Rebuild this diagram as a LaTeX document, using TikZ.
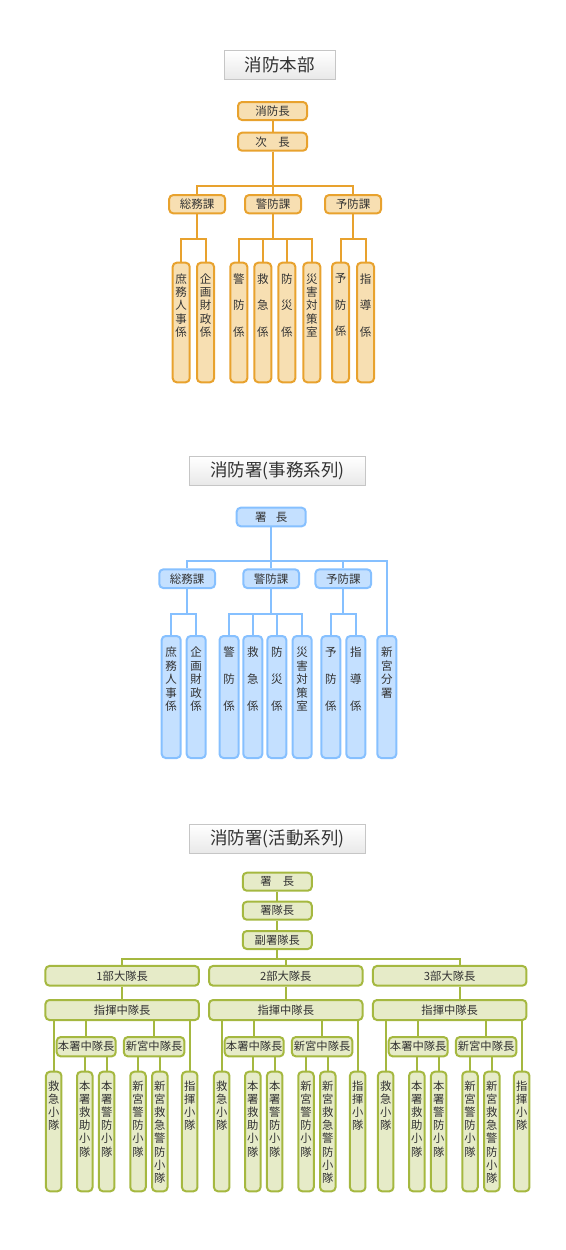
\documentclass[tikz,border=0pt]{standalone}
\usepackage{fontspec}
\setmainfont{Noto Sans CJK JP}
\definecolor{orgline}{HTML}{E8A22E}
\definecolor{orgfill}{HTML}{F7DFB2}
\definecolor{bluline}{HTML}{86C0FF}
\definecolor{blufill}{HTML}{C4E0FF}
\definecolor{grnline}{HTML}{A5B840}
\definecolor{grnfill}{HTML}{E6EBC8}
\definecolor{ink}{HTML}{333333}
% vertical text in a tall box: height, top gap, characters
\newcommand{\tate}[3]{\parbox[c][#1][t]{12pt}{\centering\vspace{#2}#3}}
\begin{document}
\begin{tikzpicture}[x=1pt, y=-1pt,
    titlebox/.style={draw=gray!45, line width=1pt, top color=white, bottom color=gray!18,
      minimum width=#1, minimum height=29pt, inner sep=0pt, text=ink,
      font=\fontsize{17.5}{20}\selectfont},
    box/.style={line width=2pt, rounded corners=4pt, inner sep=0pt, text=ink,
      font=\fontsize{11.5}{13.3}\selectfont},
    obox/.style={box, draw=orgline, fill=orgfill},
    bbox/.style={box, draw=bluline, fill=blufill, font=\fontsize{11.5}{13.5}\selectfont},
    gbox/.style={box, draw=grnline, fill=grnfill, font=\fontsize{11.3}{13.2}\selectfont},
    oline/.style={orgline, line width=2pt},
    bline/.style={bluline, line width=2pt},
    gline/.style={grnline, line width=2pt}]
  \useasboundingbox (0,0) rectangle (565,1250);

  % ---------- 消防本部 ----------
  \node[titlebox=111pt] (title1) at (279.5,65.3) {消防本部};
  \node[obox, minimum width=69pt, minimum height=18pt] (cho) at (272.5,111) {消防長};
  \node[obox, minimum width=69pt, minimum height=18pt] (jicho) at (272.5,141.7) {次\hspace{1em}長};
  \coordinate (obar1) at (0,185.7);
  \coordinate (obar2) at (0,239);
  \foreach \n/\x/\lbl in {somu/197.2/総務課, keibo/273/警防課, yobo/353/予防課}
    \node[obox, minimum width=56pt, minimum height=18.3pt] (o\n) at (\x,204.2) {\lbl};

  % sections under the 課
  \foreach \n/\x/\lbl in {shomu/181.2/{庶\\務\\人\\事\\係}, kikaku/205.5/{企\\画\\財\\政\\係},
      keibogk/238.8/{警\\[13.3pt]防\\[13.3pt]係}, kyukyu/262.8/{救\\[13.3pt]急\\[13.3pt]係},
      bosai/286.8/{防\\[13.3pt]災\\[13.3pt]係}, saigai/311.8/{災\\害\\対\\策\\室},
      yobogk/340.5/{予\\[13.3pt]防\\[13.3pt]係}, shido/365.5/{指\\[13.3pt]導\\[13.3pt]係}}
    \node[obox, anchor=north, minimum width=17pt] (o\n) at (\x,261.7) {\tate{119.6pt}{11pt}{\lbl}};

  \draw[oline] (cho) -- (jicho);
  \foreach \n in {somu,keibo,yobo}
    \draw[oline] (jicho.south) |- (o\n.north |- obar1) -- (o\n.north);
  \foreach \p/\c in {somu/shomu, somu/kikaku, keibo/keibogk, keibo/kyukyu, keibo/bosai,
      keibo/saigai, yobo/yobogk, yobo/shido}
    \draw[oline] (o\p.south) |- (o\c.north |- obar2) -- (o\c.north);

  % ---------- 消防署(事務系列) ----------
  \node[titlebox=176pt] (title2) at (277.5,471.3) {消防署(事務系列)};
  \node[bbox, minimum width=69pt, minimum height=18.6pt] (shocho) at (271.2,517) {署\hspace{0.8em}長};
  \coordinate (bbar1) at (0,561);
  \coordinate (bbar2) at (0,614);
  \foreach \n/\x/\lbl in {somu/187.2/総務課, keibo/271.2/警防課, yobo/343.3/予防課}
    \node[bbox, minimum width=55.7pt, minimum height=18.7pt] (b\n) at (\x,578.7) {\lbl};

  \foreach \n/\x/\lbl in {shomu/171.2/{庶\\務\\人\\事\\係}, kikaku/196.2/{企\\画\\財\\政\\係},
      keibogk/229/{警\\[13.5pt]防\\[13.5pt]係}, kyukyu/252.8/{救\\[13.5pt]急\\[13.5pt]係},
      bosai/276.8/{防\\[13.5pt]災\\[13.5pt]係}, saigai/302.2/{災\\害\\対\\策\\室},
      yobogk/330.8/{予\\[13.5pt]防\\[13.5pt]係}, shido/355.8/{指\\[13.5pt]導\\[13.5pt]係},
      shingu/386.8/{新\\宮\\分\\署}}
    \node[bbox, anchor=north, minimum width=19pt] (b\n) at (\x,635) {\tate{122pt}{11pt}{\lbl}};

  \foreach \n in {somu,keibo,yobo,shingu}
    \draw[bline] (shocho.south) |- (b\n.north |- bbar1) -- (b\n.north);
  \foreach \p/\c in {somu/shomu, somu/kikaku, keibo/keibogk, keibo/kyukyu, keibo/bosai,
      keibo/saigai, yobo/yobogk, yobo/shido}
    \draw[bline] (b\p.south) |- (b\c.north |- bbar2) -- (b\c.north);

  % ---------- 消防署(活動系列) ----------
  \node[titlebox=176pt] (title3) at (277.5,839.3) {消防署(活動系列)};
  \node[gbox, minimum width=69pt, minimum height=18pt] (shocho3) at (277.3,881.7) {署\hspace{1em}長};
  \node[gbox, minimum width=69pt, minimum height=18pt] (shotai) at (277.3,910.7) {署隊長};
  \node[gbox, minimum width=69pt, minimum height=18pt] (fuku) at (277.3,940) {副署隊長};
  \draw[gline] (shocho3) -- (shotai);
  \draw[gline] (shotai) -- (fuku);
  \coordinate (gbar) at (0,959.3);

  % three 大隊 side by side
  \foreach \g/\cx/\sx/\lx in {1/122.2/122/40, 2/285.8/285.8/208, 3/449.7/459.5/372} {
    \node[gbox, minimum width=153.5pt, minimum height=19.7pt] (dai\g) at (\cx,975.8) {\g 部大隊長};
    \node[gbox, minimum width=153.5pt, minimum height=20pt] (shiki\g) at (\cx,1010) {指揮中隊長};
    \node[gbox, minimum width=59pt, minimum height=19.3pt] (hon\g) at (\lx+46.2,1046.7) {本署中隊長};
    \node[gbox, minimum width=60.5pt, minimum height=19.3pt] (shin\g) at (\lx+114.1,1046.7) {新宮中隊長};
    \coordinate (stem\g) at (\sx,0);

    % 小隊
    \foreach \n/\dx/\lbl in {kq/13.7/{救\\急\\小\\隊}, hq/44.8/{本\\署\\救\\助\\小\\隊},
        hk/66.7/{本\\署\\警\\防\\小\\隊}, sk/98/{新\\宮\\警\\防\\小\\隊},
        sq/119.8/{新\\宮\\救\\急\\警\\防\\小\\隊}, sh/149.7/{指\\揮\\小\\隊}}
      \node[gbox, anchor=north, minimum width=15.5pt] (\n\g) at (\lx+\dx,1070.7) {\tate{119.6pt}{9pt}{\lbl}};

    \draw[gline] (fuku.south) |- (stem\g |- gbar) -- (stem\g |- dai\g.north);
    \draw[gline] (dai\g.south -| stem\g) -- (shiki\g.north -| stem\g);
    \draw[gline] (shiki\g.south -| kq\g) -- (kq\g.north);
    \draw[gline] (shiki\g.south -| sh\g) -- (sh\g.north);
    \draw[gline] (shiki\g.south -| hon\g) -- (hon\g.north);
    \draw[gline] (shiki\g.south -| shin\g) -- (shin\g.north);
    \draw[gline] (hon\g.south -| hq\g) -- (hq\g.north);
    \draw[gline] (hon\g.south -| hk\g) -- (hk\g.north);
    \draw[gline] (shin\g.south -| sk\g) -- (sk\g.north);
    \draw[gline] (shin\g.south -| sq\g) -- (sq\g.north);
  }
\end{tikzpicture}
\end{document}
